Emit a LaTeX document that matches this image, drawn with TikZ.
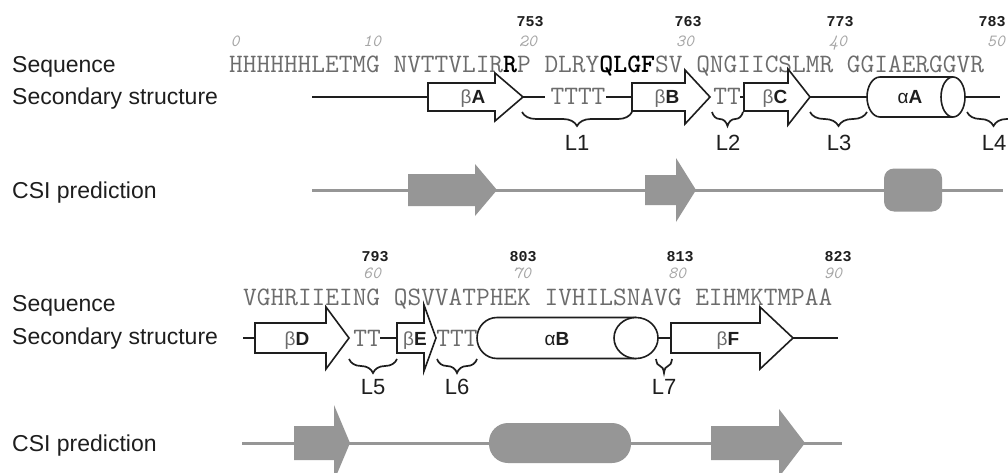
\documentclass[tikz,border=0pt]{standalone}
\usepackage{fontspec}
\setmainfont{Liberation Sans}
\newfontfamily\numfont{Liberation Mono}
\usepackage{xcolor}
\usepackage{tikz}
\usetikzlibrary{decorations.pathreplacing}

\definecolor{seqgray}{HTML}{6C6C6C}
\definecolor{numgray}{HTML}{A6A6A6}
\definecolor{csigray}{HTML}{969696}
\definecolor{inkdark}{HTML}{1E1E1E}

\begin{document}
\begin{tikzpicture}[x=1pt, y=1pt,
    rowlabel/.style={anchor=base west, text=inkdark, inner sep=0pt, font=\fontsize{23}{23}\selectfont},
    seqtext/.style={anchor=base west, text=seqgray, inner sep=0pt, font=\ttfamily\fontsize{26.6}{26.6}\selectfont},
    idxnum/.style={anchor=base, text=numgray, inner sep=0pt, font=\ttfamily\itshape\fontsize{17}{17}\selectfont},
    resnum/.style={anchor=base, text=inkdark, inner sep=0pt, font=\numfont\bfseries\fontsize{15}{15}\selectfont},
    backbone/.style={draw=inkdark, line width=2.8pt},
    strand/.style={draw=inkdark, fill=white, line width=1.6pt, line join=miter},
    helix/.style={draw=inkdark, fill=white, line width=1.6pt},
    sselabel/.style={anchor=base, inner sep=0pt, text=inkdark, font=\fontsize{19}{19}\selectfont},
    loopbrace/.style={draw=inkdark, line width=1.7pt, decorate, decoration={brace, mirror, amplitude=14pt}},
    looplabel/.style={anchor=base, text=inkdark, inner sep=0pt, font=\fontsize{22}{22}\selectfont},
    csiline/.style={draw=csigray, line width=3pt},
    csishape/.style={fill=csigray, draw=none}]

    \useasboundingbox (0,0) rectangle (1008,472);
    \clip (0,0) rectangle (1008,472);
    \fill[white] (0,0) rectangle (1008,472);

    % Row labels
    \node[rowlabel] (seqA) at (12,399) {Sequence};
    \node[rowlabel] (ssA) at (12,367) {Secondary structure};
    \node[rowlabel] (csiA) at (12,274) {CSI prediction};
    \node[rowlabel] (seqB) at (12,161) {Sequence};
    \node[rowlabel] (ssB) at (12,128) {Secondary structure};
    \node[rowlabel] (csiB) at (12,21) {CSI prediction};

    % Residue numbering
    \foreach \x/\n in {235/0, 372/10, 528/20, 685/30, 838/40, 996/50}
        \node[idxnum] (i\n) at (\x,425) {\n};
    \foreach \x/\n in {530/753, 688/763, 840/773, 992/783}
        \node[resnum] (r\n) at (\x,445) {\n};
    \foreach \x/\n in {372/60, 522/70, 677/80, 833/90}
        \node[idxnum] (i\n) at (\x,194) {\n};
    \foreach \x/\n in {375/793, 523/803, 680/813, 838/823}
        \node[resnum] (r\n) at (\x,211) {\n};

    % Sequences
    \node[seqtext] (seq1) at (229,399) {HHHHHHLETMG NVTTVLIR\textbf{\color{black}R}P DLRY\textbf{\color{black}QLGF}SV QNGIICSLMR GGIAERGGVR};
    \node[seqtext] (seq2) at (243,167) {VGHRIIEING QSVVATPHEK IVHILSNAVG EIHMKTMPAA};

    % Secondary structure, first row
    \draw[backbone] (312,375) -- (428,375);
    \draw[backbone] (523,375) -- (545,375);
    \draw[backbone] (606,375) -- (632,375);
    \draw[backbone] (740,375) -- (744,375);
    \draw[backbone] (810,375) -- (867,375);
    \draw[backbone] (965,375) -- (1000,375);
    \draw[strand] (428,361) -- (495,361) -- (495,351) -- (523,375) -- (495,399) -- (495,389) -- (428,389) -- cycle;
    \draw[strand] (632,361) -- (685,361) -- (685,348) -- (710,375) -- (685,402) -- (685,389) -- (632,389) -- cycle;
    \draw[strand] (744,361) -- (788,361) -- (788,347) -- (810,375) -- (788,403) -- (788,389) -- (744,389) -- cycle;
    \draw[helix] (953,395) -- (880,395) arc[start angle=90, end angle=270, x radius=13, y radius=20] -- (953,355);
    \draw[helix] (953,375) ellipse[x radius=12, y radius=20];
    \node[sselabel] (bA) at (473,368) {{\color{seqgray}β}\textbf{A}};
    \node[sselabel] (bB) at (667,368) {{\color{seqgray}β}\textbf{B}};
    \node[sselabel] (bC) at (775,368) {{\color{seqgray}β}\textbf{C}};
    \node[sselabel] (aA) at (910,368) {α\textbf{A}};
    \node[seqtext, anchor=base] (t1) at (578,367) {TTTT};
    \node[seqtext, anchor=base] (t2) at (727,367) {TT};

    % Loops, first row
    \draw[loopbrace] (522,360) -- (632,360);
    \draw[loopbrace] (712,360) -- (743,360);
    \draw[loopbrace] (810,360) -- (867,360);
    \draw[loopbrace] (967,360) -- (1020,360);
    \node[looplabel] (L1) at (577,321) {L1};
    \node[looplabel] (L2) at (728,321) {L2};
    \node[looplabel] (L3) at (839,321) {L3};
    \node[looplabel] (L4) at (994,321) {L4};

    % CSI prediction, first row
    \draw[csiline] (312,282) -- (1003,282);
    \fill[csishape] (408,266) -- (475,266) -- (475,256) -- (497,282) -- (475,308) -- (475,298) -- (408,298) -- cycle;
    \fill[csishape] (645,267) -- (676,267) -- (676,250) -- (696,282) -- (676,314) -- (676,297) -- (645,297) -- cycle;
    \fill[csishape, rounded corners=10pt] (884,260.5) rectangle (942,303.5);

    % Secondary structure, second row
    \draw[backbone] (243,134) -- (255,134);
    \draw[backbone] (380,134) -- (397,134);
    \draw[backbone] (658,134) -- (671,134);
    \draw[backbone] (793,134) -- (838,134);
    \draw[strand] (255,119) -- (326,119) -- (326,103) -- (349,134) -- (326,165) -- (326,149) -- (255,149) -- cycle;
    \draw[strand] (397,119) -- (424,119) -- (424,101) -- (436,134) -- (424,167) -- (424,149) -- (397,149) -- cycle;
    \draw[strand] (671,119) -- (760,119) -- (760,103) -- (793,134) -- (760,165) -- (760,149) -- (671,149) -- cycle;
    \draw[helix] (636,154.5) -- (497,154.5) arc[start angle=90, end angle=270, x radius=20, y radius=20.5] -- (636,113.5);
    \draw[helix] (636,134) ellipse[x radius=22, y radius=20.5];
    \node[sselabel] (bD) at (297,127) {{\color{seqgray}β}\textbf{D}};
    \node[sselabel] (bE) at (415,127) {{\color{seqgray}β}\textbf{E}};
    \node[sselabel] (aB) at (557,127) {α\textbf{B}};
    \node[sselabel] (bF) at (728,127) {{\color{seqgray}β}\textbf{F}};
    \node[seqtext, anchor=base] (t3) at (367,126) {TT};
    \node[seqtext, anchor=base] (t4) at (457,126) {TTT};

    % Loops, second row
    \draw[loopbrace] (349,113) -- (397,113);
    \draw[loopbrace] (437,113) -- (477,113);
    \draw[loopbrace] (656,113) -- (672,113);
    \node[looplabel] (L5) at (373,78) {L5};
    \node[looplabel] (L6) at (457,78) {L6};
    \node[looplabel] (L7) at (664,78) {L7};

    % CSI prediction, second row
    \draw[csiline] (242,29) -- (842,29);
    \fill[csishape] (294,12) -- (334,12) -- (334,-9) -- (350,29) -- (334,67) -- (334,46) -- (294,46) -- cycle;
    \fill[csishape, rounded corners=19pt] (489,9) rectangle (631,49);
    \fill[csishape] (711,12) -- (779,12) -- (779,-5) -- (805,29) -- (779,63) -- (779,46) -- (711,46) -- cycle;
\end{tikzpicture}
\end{document}
